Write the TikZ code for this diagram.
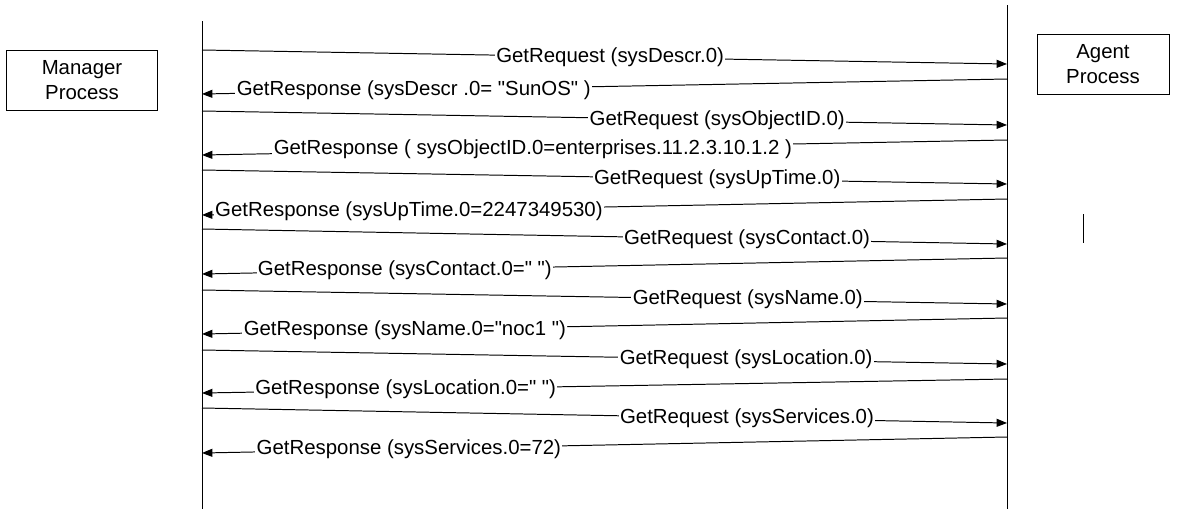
\documentclass[tikz,border=0pt]{standalone}
\usepackage{fontspec}
\newfontfamily\lsans{Liberation Sans}
\usetikzlibrary{positioning,arrows.meta}

\begin{document}
\begin{tikzpicture}[
    x=0.025cm, y=-0.025cm,
    font=\lsans\fontsize{14.5}{17.5}\selectfont,
    line width=.7pt
  ]
\def\lx{202}
\def\rx{1007}

\useasboundingbox (0,0) rectangle (1188,509);

\tikzstyle{proc}=[draw,align=center,minimum height=1.5cm,inner sep=1pt]
\tikzstyle{msg}=[-{Triangle[length=2.6mm,width=2mm]}]
\tikzstyle{lbl}=[fill=white,inner sep=1pt]

\node[proc,minimum width=3.75cm] (manager) at (82,80) {Manager\\Process};
\node[proc,minimum width=3.3cm] (agent) at (1103,64) {Agent\\Process};

% lifelines
\coordinate (mtop) at (\lx,21);
\coordinate (mbot) at (\lx,509);
\coordinate (atop) at (\rx,5);
\coordinate (abot) at (\rx,509);
\draw (mtop) -- (mbot);
\draw (atop) -- (abot);

\coordinate (ticktop) at (1083,214);
\coordinate (tickbot) at (1083,243);
\draw (ticktop) -- (tickbot);

% message end points
\coordinate (m1) at (\lx,50);   \coordinate (a1) at (\rx,64);
\coordinate (a2) at (\rx,79);   \coordinate (m2) at (\lx,94);
\coordinate (m3) at (\lx,111);  \coordinate (a3) at (\rx,125);
\coordinate (a4) at (\rx,140);  \coordinate (m4) at (\lx,155);
\coordinate (m5) at (\lx,170);  \coordinate (a5) at (\rx,184);
\coordinate (a6) at (\rx,199);  \coordinate (m6) at (\lx,215);
\coordinate (m7) at (\lx,229);  \coordinate (a7) at (\rx,244);
\coordinate (a8) at (\rx,258);  \coordinate (m8) at (\lx,274);
\coordinate (m9) at (\lx,290);  \coordinate (a9) at (\rx,304);
\coordinate (a10) at (\rx,318); \coordinate (m10) at (\lx,334);
\coordinate (m11) at (\lx,350); \coordinate (a11) at (\rx,364);
\coordinate (a12) at (\rx,379); \coordinate (m12) at (\lx,393);
\coordinate (m13) at (\lx,408); \coordinate (a13) at (\rx,423);
\coordinate (a14) at (\rx,437); \coordinate (m14) at (\lx,453);

\draw[msg] (m1) -- node[lbl,pos=.507] (q1) {GetRequest (sysDescr.0)} (a1);
\draw[msg] (a2) -- node[lbl,pos=.737] (r1) {GetResponse (sysDescr .0= "SunOS" )} (m2);
\draw[msg] (m3) -- node[lbl,pos=.64] (q2) {GetRequest (sysObjectID.0)} (a3);
\draw[msg] (a4) -- node[lbl,pos=.589] (r2) {GetResponse ( sysObjectID.0=enterprises.11.2.3.10.1.2 )} (m4);
\draw[msg] (m5) -- node[lbl,pos=.64] (q3) {GetRequest (sysUpTime.0)} (a5);
\draw[msg] (a6) -- node[lbl,pos=.743] (r3) {GetResponse (sysUpTime.0=2247349530)} (m6);
\draw[msg] (m7) -- node[lbl,pos=.677] (q4) {GetRequest (sysContact.0)} (a7);
\draw[msg] (a8) -- node[lbl,pos=.748] (r4) {GetResponse (sysContact.0=" ")} (m8);
\draw[msg] (m9) -- node[lbl,pos=.678] (q5) {GetRequest (sysName.0)} (a9);
\draw[msg] (a10) -- node[lbl,pos=.748] (r5) {GetResponse (sysName.0="noc1 ")} (m10);
\draw[msg] (m11) -- node[lbl,pos=.676] (q6) {GetRequest (sysLocation.0)} (a11);
\draw[msg] (a12) -- node[lbl,pos=.747] (r6) {GetResponse (sysLocation.0=" ")} (m12);
\draw[msg] (m13) -- node[lbl,pos=.677] (q7) {GetRequest (sysServices.0)} (a13);
\draw[msg] (a14) -- node[lbl,pos=.743] (r7) {GetResponse (sysServices.0=72)} (m14);

\end{tikzpicture}
\end{document}
